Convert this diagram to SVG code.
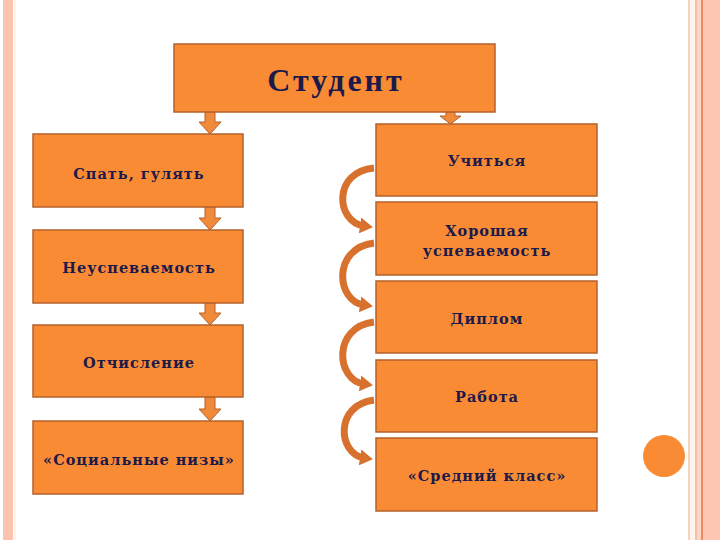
<svg xmlns="http://www.w3.org/2000/svg" width="720" height="540" viewBox="0 0 720 540">
<style>
.box{fill:#F98B35;stroke:#B5612B;stroke-width:1.5}
.lbl{font-family:"DejaVu Serif","Liberation Serif",serif;font-weight:bold;font-size:14.5px;fill:#1C1A4A;text-anchor:middle;letter-spacing:1px}
.big{font-family:"Liberation Serif","DejaVu Serif",serif;font-size:32px;letter-spacing:3px}
.down{fill:#F08A3A;stroke:#B5612B;stroke-width:1}
.curve{fill:none;stroke:#D9712E;stroke-width:7;stroke-linecap:butt}
</style>
<defs>
<marker id="ah" markerUnits="userSpaceOnUse" markerWidth="18" markerHeight="18" refX="4" refY="9" orient="auto">
<path d="M0,1 L13,9 L0,17 Z" fill="#D9712E"/>
</marker>
</defs>
<rect x="0" y="0" width="720" height="540" fill="#FFFFFF"/>
<rect x="3" y="0" width="10" height="540" fill="#FCC4AE"/>
<rect x="14" y="0" width="2" height="540" fill="#FFF1E8"/>
<rect x="688" y="0" width="2" height="540" fill="#F8D3C2"/>
<rect x="690" y="0" width="5" height="540" fill="#FFF4EC"/>
<rect x="695" y="0" width="2" height="540" fill="#F7BFA6"/>
<rect x="697" y="0" width="4" height="540" fill="#FCD6C6"/>
<rect x="701" y="0" width="2" height="540" fill="#F08A62"/>
<rect x="703" y="0" width="17" height="540" fill="#FCC6B2"/>
<circle cx="664" cy="456" r="21" fill="#F98B35"/>
<g id="connectors">
<path class="down" d="M205,112 H215 V122 H221 L210,134 L199,122 H205 Z"/>
<path class="down" d="M205,207 H215 V218 H221 L210,230 L199,218 H205 Z"/>
<path class="down" d="M205,303 H215 V313 H221 L210,325 L199,313 H205 Z"/>
<path class="down" d="M205,397 H215 V409 H221 L210,421 L199,409 H205 Z"/>
<path class="down" d="M446,112 H455 V116 H461 L450.5,124 L440,116 H446 Z"/>
<path class="curve" marker-end="url(#ah)" d="M374,168 C 332,172 336,222 364,226"/>
<path class="curve" marker-end="url(#ah)" d="M374,243 C 332,248 336,301 364,305"/>
<path class="curve" marker-end="url(#ah)" d="M374,322 C 332,327 336,380 364,384"/>
<path class="curve" marker-end="url(#ah)" d="M374,400 C 334,405 338,454 364,458"/>
</g>
<g id="n-student"><rect class="box" x="174" y="44" width="321" height="68"/><text class="lbl big" x="336" y="91">Студент</text></g>
<g id="n-sleep"><rect class="box" x="33" y="134" width="210" height="73"/><text class="lbl" x="139" y="179">Спать, гулять</text></g>
<g id="n-fail"><rect class="box" x="33" y="230" width="210" height="73"/><text class="lbl" x="139" y="273">Неуспеваемость</text></g>
<g id="n-expel"><rect class="box" x="33" y="325" width="210" height="72"/><text class="lbl" x="139" y="368">Отчисление</text></g>
<g id="n-low"><rect class="box" x="33" y="421" width="210" height="73"/><text class="lbl" x="139" y="465">«Социальные низы»</text></g>
<g id="n-study"><rect class="box" x="376" y="124" width="221" height="72"/><text class="lbl" x="487" y="166">Учиться</text></g>
<g id="n-good"><rect class="box" x="376" y="202" width="221" height="73"/><text class="lbl" x="487" y="236">Хорошая</text><text class="lbl" x="487" y="256">успеваемость</text></g>
<g id="n-diploma"><rect class="box" x="376" y="281" width="221" height="72"/><text class="lbl" x="487" y="324">Диплом</text></g>
<g id="n-work"><rect class="box" x="376" y="360" width="221" height="72"/><text class="lbl" x="487" y="402">Работа</text></g>
<g id="n-middle"><rect class="box" x="376" y="438" width="221" height="73"/><text class="lbl" x="487" y="481">«Средний класс»</text></g>
</svg>
